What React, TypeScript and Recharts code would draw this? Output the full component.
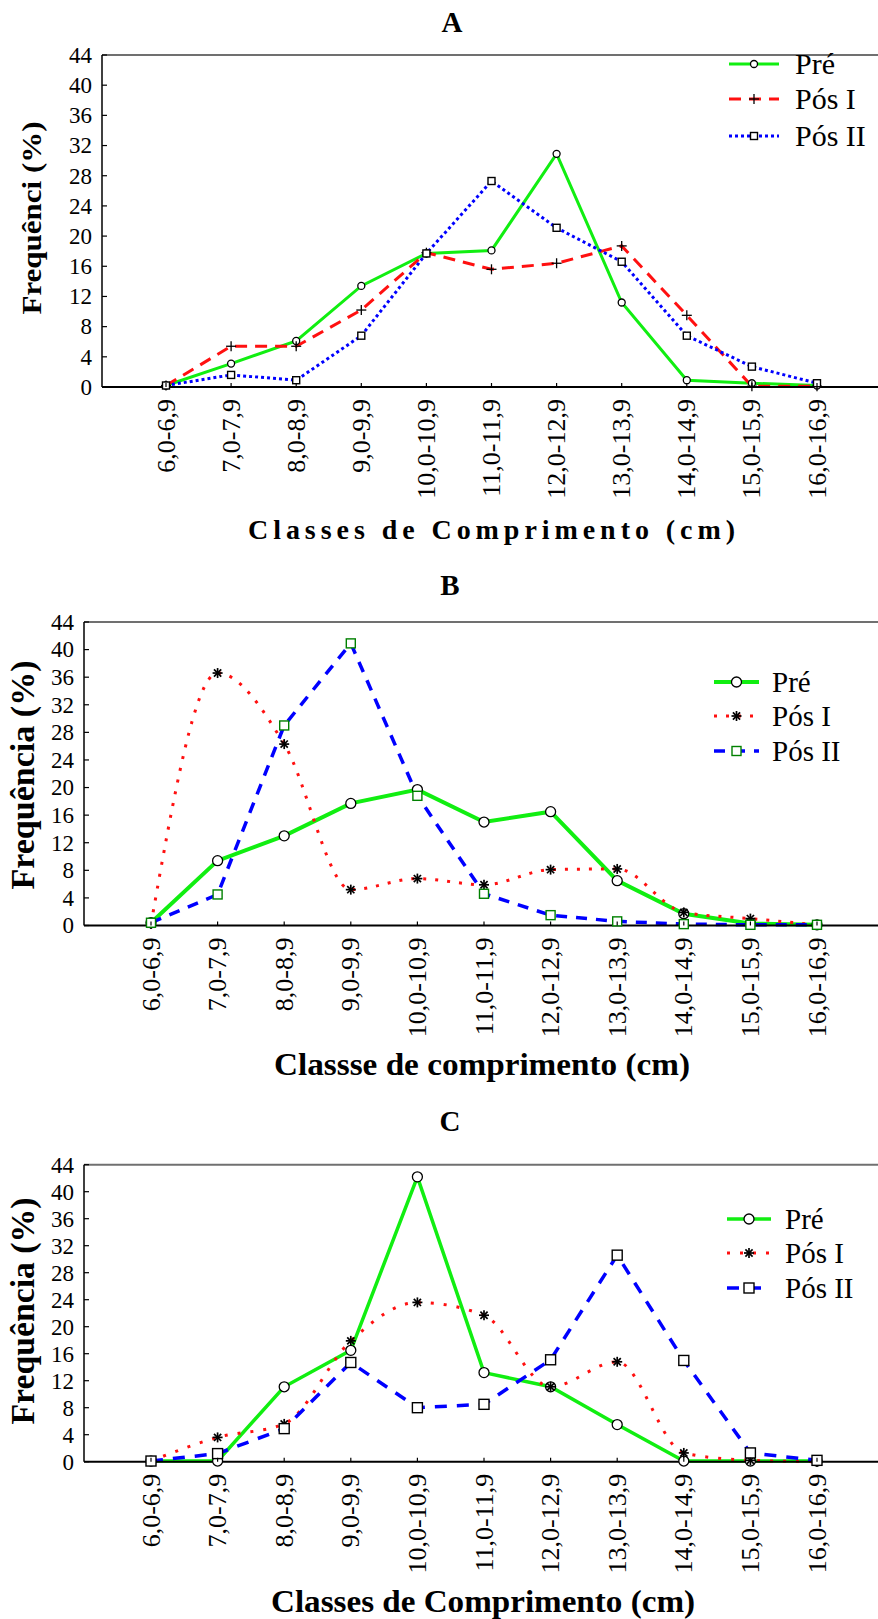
import React from 'react'
import { LineChart, Line, XAxis, YAxis, ReferenceLine, Legend } from 'recharts'

const SERIF = '"Liberation Serif", "Times New Roman", Times, serif'

const classes = [
  '6,0-6,9', '7,0-7,9', '8,0-8,9', '9,0-9,9', '10,0-10,9', '11,0-11,9',
  '12,0-12,9', '13,0-13,9', '14,0-14,9', '15,0-15,9', '16,0-16,9',
]
const yTicks = [0, 4, 8, 12, 16, 20, 24, 28, 32, 36, 40, 44]
const seriesNames = ['Pré', 'Pós I', 'Pós II']

// panel A
const preA = [0.2, 3.1, 6.1, 13.4, 17.7, 18.1, 30.9, 11.2, 0.9, 0.5, 0.2]
const posIA = [0.2, 5.4, 5.4, 10.2, 17.8, 15.6, 16.4, 18.7, 9.5, 0.1, 0.1]
const posIIA = [0.2, 1.6, 0.9, 6.8, 17.7, 27.3, 21.1, 16.6, 6.8, 2.7, 0.5]

// panel B
const preB = [0.4, 9.4, 13.0, 17.7, 19.7, 15.0, 16.5, 6.5, 1.7, 0.3, 0.1]
const posIB = [0.2, 36.6, 26.3, 5.2, 6.8, 5.9, 8.1, 8.2, 1.9, 1.0, 0.1]
const posIIB = [0.4, 4.5, 29.0, 40.9, 18.8, 4.6, 1.5, 0.6, 0.2, 0.1, 0.1]

// panel C
const preC = [0.1, 0.1, 11.1, 16.5, 42.2, 13.2, 11.1, 5.5, 0.1, 0.1, 0.1]
const posIC = [0.1, 3.6, 5.6, 17.9, 23.6, 21.7, 11.1, 14.8, 1.3, 0.2, 0.0]
const posIIC = [0.1, 1.2, 4.9, 14.7, 8.0, 8.5, 15.1, 30.6, 15.0, 1.3, 0.2]

const buildRows = (pre: number[], posI: number[], posII: number[]) =>
  classes.map((cls, i) => ({ cls, pre: pre[i], posI: posI[i], posII: posII[i] }))

type Mark = 'circle' | 'plus' | 'star' | 'square'

interface SeriesStyle {
  key: 'pre' | 'posI' | 'posII'
  color: string
  width: number
  dash?: string
  curve: 'linear' | 'monotone'
  mark: Mark
  size: number
  markColor: string
}

function Marker({ mark, cx, cy, size, color }: { mark: Mark; cx: number; cy: number; size: number; color: string }) {
  if (mark === 'circle') return <circle cx={cx} cy={cy} r={size} fill="#fff" stroke={color} strokeWidth={1.3} />
  if (mark === 'square')
    return <rect x={cx - size} y={cy - size} width={size * 2} height={size * 2} fill="#fff" stroke={color} strokeWidth={1.4} />
  if (mark === 'plus')
    return (
      <g stroke={color} strokeWidth={1.3}>
        <line x1={cx - size} y1={cy} x2={cx + size} y2={cy} />
        <line x1={cx} y1={cy - size} x2={cx} y2={cy + size} />
      </g>
    )
  const d = size * 0.72
  return (
    <g stroke={color} strokeWidth={1.7}>
      <line x1={cx} y1={cy - size} x2={cx} y2={cy + size} />
      <line x1={cx - size} y1={cy} x2={cx + size} y2={cy} />
      <line x1={cx - d} y1={cy - d} x2={cx + d} y2={cy + d} />
      <line x1={cx - d} y1={cy + d} x2={cx + d} y2={cy - d} />
    </g>
  )
}

function XTick({ x, y, payload }: any) {
  const ty = y + 12
  return (
    <g>
      <line x1={x} y1={y} x2={x} y2={y - 4} stroke="#000" strokeWidth={1.2} />
      <text x={x} y={ty} transform={`rotate(-90 ${x} ${ty})`} textAnchor="end" dy="0.33em"
        style={{ fontFamily: SERIF }} fontSize={26} fill="#000">{payload.value}</text>
    </g>
  )
}

function YTick({ x, y, payload }: any) {
  return (
    <g>
      <line x1={x} y1={y} x2={x + 5} y2={y} stroke="#000" strokeWidth={1.2} />
      <text x={x - 10} y={y} dy="0.34em" textAnchor="end" style={{ fontFamily: SERIF }} fontSize={23} fill="#000">{payload.value}</text>
    </g>
  )
}

function AxisTitle({ text, tx, ty, size, len, rotate, adjust }: any) {
  return (
    <text x={tx} y={ty} transform={rotate ? `rotate(-90 ${tx} ${ty})` : undefined}
      textAnchor={rotate ? 'middle' : 'start'} style={{ fontFamily: SERIF }} fontWeight="bold" fontSize={size}
      textLength={len} lengthAdjust={adjust} fill="#000">{text}</text>
  )
}

interface PanelProps {
  top: number
  height: number
  plotTop: number
  plotBottom: number
  axisX: number
  padL: number
  padR: number
  rows: any[]
  series: SeriesStyle[]
  title: string
  titleX: number
  titleY: number
  legend: { rows: number[]; x1: number; x2: number; tx: number; size: number }
  xTitle: { text: string; x: number; y: number; size: number; len: number; adjust: string }
  yTitle: { text: string; x: number; y: number; size: number; len: number }
}

function Panel(p: PanelProps) {
  const overlay = () => (
    <svg width={878} height={p.height} style={{ position: 'absolute', left: 0, top: 0, overflow: 'visible', fontFamily: SERIF }}>
      <text x={p.titleX} y={p.titleY} textAnchor="middle" fontWeight="bold" fontSize={29}>{p.title}</text>
      {p.series.map((s, i) => {
        const y = p.legend.rows[i]
        return (
          <g key={s.key}>
            <line x1={p.legend.x1} y1={y} x2={p.legend.x2} y2={y} stroke={s.color} strokeWidth={s.width} strokeDasharray={s.dash} />
            <Marker mark={s.mark} cx={(p.legend.x1 + p.legend.x2) / 2} cy={y} size={s.size} color={s.markColor} />
            <text x={p.legend.tx} y={y} dy="0.34em" fontSize={p.legend.size}>{seriesNames[i]}</text>
          </g>
        )
      })}
    </svg>
  )

  return (
    <div style={{ position: 'absolute', left: 0, top: p.top }}>
      <LineChart width={878} height={p.height} data={p.rows}
        margin={{ top: p.plotTop - p.top, right: 0, bottom: 0, left: 0 }}>
        <ReferenceLine y={44} stroke="#707070" strokeWidth={2} />
        <XAxis dataKey="cls" interval={0} height={p.top + p.height - p.plotBottom}
          padding={{ left: p.padL, right: p.padR }} tickSize={0} tickMargin={0} tickLine={false}
          axisLine={{ stroke: '#000', strokeWidth: 2 }} tick={<XTick />}
          label={<AxisTitle text={p.xTitle.text} tx={p.xTitle.x} ty={p.xTitle.y} size={p.xTitle.size}
            len={p.xTitle.len} adjust={p.xTitle.adjust} />} />
        <YAxis type="number" domain={[0, 44]} ticks={yTicks} interval={0} width={p.axisX}
          tickSize={0} tickMargin={0} tickLine={false} axisLine={{ stroke: '#000', strokeWidth: 1.5 }} tick={<YTick />}
          label={<AxisTitle text={p.yTitle.text} tx={p.yTitle.x} ty={p.yTitle.y} size={p.yTitle.size}
            len={p.yTitle.len} rotate adjust="spacingAndGlyphs" />} />
        <Legend verticalAlign="middle" align="center" layout="horizontal"
          wrapperStyle={{ left: 0, top: 0, width: 878, height: p.height, pointerEvents: 'none' }} content={overlay} />
        {p.series.map((s) => (
          <Line key={s.key} dataKey={s.key} type={s.curve} stroke={s.color} strokeWidth={s.width}
            strokeDasharray={s.dash} isAnimationActive={false}
            dot={(d: any) => <Marker key={`${s.key}-${d.index}`} mark={s.mark} cx={d.cx} cy={d.cy} size={s.size} color={s.markColor} />}
            activeDot={false} />
        ))}
      </LineChart>
    </div>
  )
}

const GREEN = '#11ee11'
const RED = '#ff1010'
const BLUE = '#0000ff'

const seriesA: SeriesStyle[] = [
  { key: 'pre', color: GREEN, width: 3, curve: 'linear', mark: 'circle', size: 3.5, markColor: '#000' },
  { key: 'posI', color: RED, width: 3, dash: '12 8', curve: 'linear', mark: 'plus', size: 5, markColor: '#000' },
  { key: 'posII', color: BLUE, width: 3, dash: '3 3', curve: 'linear', mark: 'square', size: 3.5, markColor: '#000' },
]
const seriesB: SeriesStyle[] = [
  { key: 'pre', color: GREEN, width: 4, curve: 'linear', mark: 'circle', size: 5, markColor: '#000' },
  { key: 'posI', color: RED, width: 3, dash: '3 9', curve: 'monotone', mark: 'star', size: 5, markColor: '#000' },
  { key: 'posII', color: BLUE, width: 3.5, dash: '11 9', curve: 'linear', mark: 'square', size: 4.5, markColor: '#008000' },
]
const seriesC: SeriesStyle[] = [
  { key: 'pre', color: GREEN, width: 3.5, curve: 'linear', mark: 'circle', size: 5, markColor: '#000' },
  { key: 'posI', color: RED, width: 3, dash: '3 10', curve: 'monotone', mark: 'star', size: 5, markColor: '#000' },
  { key: 'posII', color: BLUE, width: 3.5, dash: '12 10', curve: 'linear', mark: 'square', size: 5, markColor: '#000' },
]

export default function App() {
  return (
    <div style={{ position: 'absolute', left: 0, top: 0, width: 878, height: 1619, background: '#fff' }}>
      <Panel top={0} height={560} plotTop={55} plotBottom={387} axisX={102} padL={64} padR={61}
        rows={buildRows(preA, posIA, posIIA)} series={seriesA} title="A" titleX={452} titleY={32}
        legend={{ rows: [64, 99, 136], x1: 729, x2: 779, tx: 795, size: 30 }}
        xTitle={{ text: 'Classes de Comprimento (cm)', x: 248, y: 539, size: 28, len: 487, adjust: 'spacing' }}
        yTitle={{ text: 'Frequênci (%)', x: 41, y: 218, size: 27, len: 193 }} />
      <Panel top={560} height={540} plotTop={622} plotBottom={925.5} axisX={84} padL={67} padR={61}
        rows={buildRows(preB, posIB, posIIB)} series={seriesB} title="B" titleX={450} titleY={35}
        legend={{ rows: [122, 156, 191], x1: 714, x2: 759, tx: 772, size: 29 }}
        xTitle={{ text: 'Classse de comprimento (cm)', x: 274, y: 515, size: 31, len: 416, adjust: 'spacingAndGlyphs' }}
        yTitle={{ text: 'Frequência (%)', x: 34, y: 215, size: 33, len: 229 }} />
      <Panel top={1100} height={519} plotTop={1164.7} plotBottom={1461.7} axisX={84} padL={67} padR={61}
        rows={buildRows(preC, posIC, posIIC)} series={seriesC} title="C" titleX={450} titleY={31}
        legend={{ rows: [119, 153, 188], x1: 727, x2: 771, tx: 785, size: 29 }}
        xTitle={{ text: 'Classes de Comprimento (cm)', x: 271, y: 512, size: 31, len: 424, adjust: 'spacingAndGlyphs' }}
        yTitle={{ text: 'Frequência (%)', x: 34, y: 211, size: 33, len: 227 }} />
    </div>
  )
}
